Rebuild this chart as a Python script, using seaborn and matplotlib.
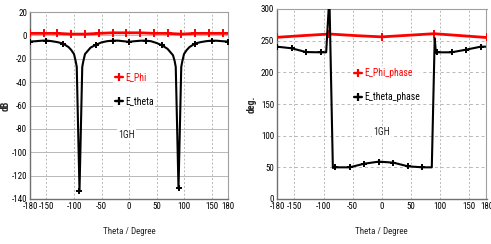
import matplotlib
matplotlib.use("Agg")
import matplotlib.pyplot as plt
from matplotlib import font_manager as fm
import seaborn as sns
import pandas as pd
from matplotlib.lines import Line2D

# ---------------- data ----------------
# Left: magnitude (dB)
phi_theta = [-180, -155, -130, -105, -80, -55, -30, -5, 20, 45, 70, 95, 120, 145, 170, 180]
phi_db = [1.7, 1.7, 1.7, 1.1, 1.1, 1.7, 2.2, 2.2, 2.2, 1.7, 1.7, 1.1, 1.7, 1.7, 1.7, 1.7]

eth_theta = [-180, -170, -160, -150, -140, -130, -120, -110, -105, -100, -97, -95, -90,
             -85, -83, -80, -70, -60, -50, -40, -30, -20, -10, 0, 10, 20, 30, 40, 50, 60,
             70, 80, 83, 85, 90, 95, 97, 100, 105, 110, 120, 130, 140, 150, 160, 170, 180]
eth_db = [-5.3, -5.0, -4.6, -4.4, -5.0, -5.8, -7.0, -10.0, -12.5, -16.0, -22.0, -27.0, -133.0,
          -27.0, -22.0, -16.0, -10.5, -8.0, -6.0, -5.0, -4.5, -4.5, -5.0, -5.5, -5.0, -4.6, -4.5,
          -5.0, -6.5, -8.5, -11.5, -17.0, -22.0, -27.0, -131.0, -27.0, -22.0, -16.0, -12.5,
          -10.0, -7.0, -5.8, -5.0, -4.5, -4.6, -5.0, -5.3]
eth_mark = [-180, -150, -120, -90, -60, -30, 0, 30, 60, 90, 120, 150, 180]
phi_mark = [-180, -155, -130, -105, -80, -55, -30, -5, 20, 45, 70, 95, 120, 145, 170]

# Right: phase (deg)
pphi_theta = [-180, -135, -90, -45, 0, 45, 90, 135, 180]
pphi_deg = [255.3, 258.0, 260.5, 258.0, 256.0, 258.5, 261.0, 258.0, 255.0]
pphi_mark = [-180, -90, 0, 90, 180]

pth_theta = [-180, -155, -130, -105, -95.5, -90, -84, -80, -55, -30, -5, 20, 45, 70,
             86, 91, 93, 95, 120, 145, 170, 180]
pth_deg = [240.5, 238.0, 232.0, 231.6, 231.6, 320.0, 49.0, 50.0, 50.0, 55.8, 59.0, 57.4,
           51.6, 50.0, 50.0, 254.0, 231.0, 231.6, 231.6, 235.8, 240.5, 240.5]
pth_mark = [-180, -155, -130, -105, -80, -55, -30, -5, 20, 45, 70, 95, 120, 145, 170]

xticks = [-180, -150, -100, -50, 0, 50, 100, 150, 180]
left_yticks = [-140, -120, -100, -80, -60, -40, -20, 0, 20]
right_yticks = [0, 50, 100, 150, 200, 250, 300]

# ---------------- style ----------------
sns.set_theme(style="white")

# pick a narrow font if one is installed
_fonts = [(f.name, str(f.stretch)) for f in fm.fontManager.ttflist]
_names = {n for n, _ in _fonts}
FS = 6.5
if "Liberation Sans Narrow" in _names:
    plt.rcParams['font.family'] = ['Liberation Sans Narrow', 'DejaVu Sans']
elif "Roboto Condensed" in _names:
    plt.rcParams['font.family'] = ['Roboto Condensed', 'DejaVu Sans']
else:
    plt.rcParams['font.family'] = ['Liberation Sans', 'DejaVu Sans']
    FS = 5.5

RED = "#ff0000"
BLK = "#000000"
GRID = "#b8b8b8"

fig = plt.figure(figsize=(4.91, 2.44), dpi=100)
axL = fig.add_axes([30 / 491, 45 / 244, 198 / 491, 187 / 244])
axR = fig.add_axes([277 / 491, 45 / 244, 209.5 / 491, 190 / 244])


def idx(xs, marks):
    return [i for i, v in enumerate(xs) if v in marks]


def draw(ax, x, y, marks, color, lw, label, ms):
    df = pd.DataFrame({"theta": x, "val": y})
    sns.lineplot(data=df, x="theta", y="val", ax=ax, color=color, lw=lw, linestyle="-",
                 marker="+", markersize=ms, markeredgewidth=1.4, markeredgecolor=color,
                 markerfacecolor=color, markevery=idx(x, marks),
                 label=label, legend=False, sort=False, zorder=3)


draw(axL, phi_theta, phi_db, phi_mark, RED, 2.0, "E_Phi", 6)
draw(axL, eth_theta, eth_db, eth_mark, BLK, 1.5, "E_theta", 5)
draw(axR, pphi_theta, pphi_deg, pphi_mark, RED, 2.0, "E_Phi_phase", 6)
draw(axR, pth_theta, pth_deg, pth_mark, BLK, 1.5, "E_theta_phase", 5)

for ax, yt, ylab, hls, lx in [(axL, left_yticks, "dB", "-", -0.10),
                              (axR, right_yticks, "deg.", (0, (3, 3)), -0.095)]:
    ax.set_xlim(-180, 180)
    ax.set_ylim(yt[0], yt[-1])
    ax.set_xticks(xticks)
    ax.set_yticks(yt)
    ax.set_xticklabels([str(v) for v in xticks])
    ax.set_yticklabels([str(v) for v in yt])
    ax.tick_params(axis="both", length=0, pad=2, labelsize=FS, colors="#000000")
    ax.xaxis.grid(True, color=GRID, lw=0.7, ls=(0, (2, 2)))
    ax.yaxis.grid(True, color=GRID, lw=0.7, ls=hls)
    ax.set_axisbelow(True)
    for s in ["top", "right"]:
        ax.spines[s].set_color("#a0a0a0")
        ax.spines[s].set_linewidth(0.8)
    for s in ["left", "bottom"]:
        ax.spines[s].set_color("#707070")
        ax.spines[s].set_linewidth(1.0)
    ax.set_xlabel("Theta / Degree", fontsize=FS, labelpad=12)
    ax.set_ylabel(ylab, fontsize=FS + 0.5, fontweight="bold")
    ax.yaxis.set_label_coords(lx, 0.5)


def make_legend(ax, labels, colors, anchor):
    handles = [Line2D([], [], color=c, lw=1.6, marker="+", markersize=6, mew=1.6) for c in colors]
    leg = ax.legend(handles, labels, loc="upper left", bbox_to_anchor=anchor,
                    frameon=True, fancybox=False, handlelength=0.8, handletextpad=0.2,
                    labelspacing=1.45, borderpad=0.2, borderaxespad=0, fontsize=FS + 0.5)
    leg.get_frame().set_facecolor("white")
    leg.get_frame().set_edgecolor("white")
    leg.get_frame().set_linewidth(0)
    for t, c in zip(leg.get_texts(), colors):
        t.set_color(c)
    leg.set_zorder(5)


make_legend(axL, ["E_Phi", "E_theta"], [RED, BLK], (0.42, 0.69))
make_legend(axR, ["E_Phi_phase", "E_theta_phase"], [RED, BLK], (0.36, 0.70))

axL.text(-5, -85, "1GH", fontsize=FS + 0.5, ha="center", va="center",
         bbox=dict(facecolor="white", edgecolor="none", pad=1), zorder=5)
axR.text(0, 106, "1GH", fontsize=FS + 0.5, ha="center", va="center",
         bbox=dict(facecolor="white", edgecolor="none", pad=1), zorder=5)

fig.savefig("out.png", dpi=100)
